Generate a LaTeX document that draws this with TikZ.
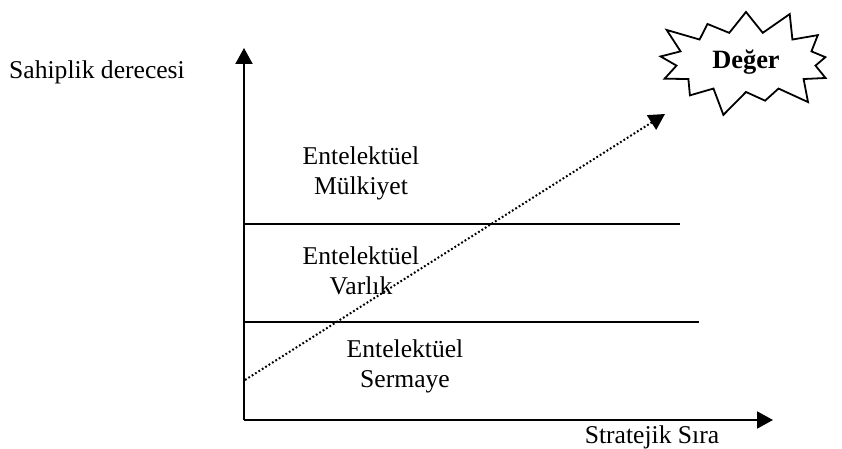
\documentclass[tikz,border=0pt]{standalone}
\usepackage{fontspec}
\setmainfont{Liberation Serif}
\usetikzlibrary{arrows.meta,positioning,shapes.symbols}

\begin{document}
\begin{tikzpicture}[x=0.5pt,y=0.5pt,>={Triangle[length=8pt,width=8.5pt]},font=\fontsize{12.8}{15}\selectfont]
\tikzstyle{label}=[align=center,inner sep=0pt]
\tikzstyle{axis}=[line width=1pt,->]
\tikzstyle{level}=[line width=1pt]
\tikzstyle{burst}=[draw,line width=0.9pt,starburst,starburst points=13,starburst point height=14pt,minimum width=98pt,minimum height=58pt,inner sep=0pt,font=\fontsize{13.2}{15}\selectfont\bfseries]
\useasboundingbox (0,0) rectangle (842,449);
% axes
\coordinate (o) at (244,29);
\coordinate (ytop) at (244,401);
\coordinate (xend) at (773,29);
\draw[axis] (o)--(ytop);
\draw[axis] (o)--(xend);
% levels
\coordinate (l1a) at (244,225); \coordinate (l1b) at (680,225);
\coordinate (l2a) at (244,127); \coordinate (l2b) at (699,127);
\draw[level] (l1a)--(l1b);
\draw[level] (l2a)--(l2b);
% texts
\node[label] (ylab) at (97,377) {Sahiplik derecesi};
\node[label] (xlab) at (652,12) {Stratejik Sıra};
\node[label] (mulk) at (361,276) {Entelektüel\\Mülkiyet};
\node[label] (varl) at (361,178) {Entelektüel\\Varlık};
\node[label] (serm) at (405,83) {Entelektüel\\Sermaye};
\node[burst] (deger) at (746,387) {Değer};
% value path
\coordinate (start) at (245,69);
\coordinate (tip) at (665,335);
\draw[->,line width=1pt,dash pattern=on 0.9pt off 1.1pt] (start)--(tip);
\end{tikzpicture}
\end{document}
